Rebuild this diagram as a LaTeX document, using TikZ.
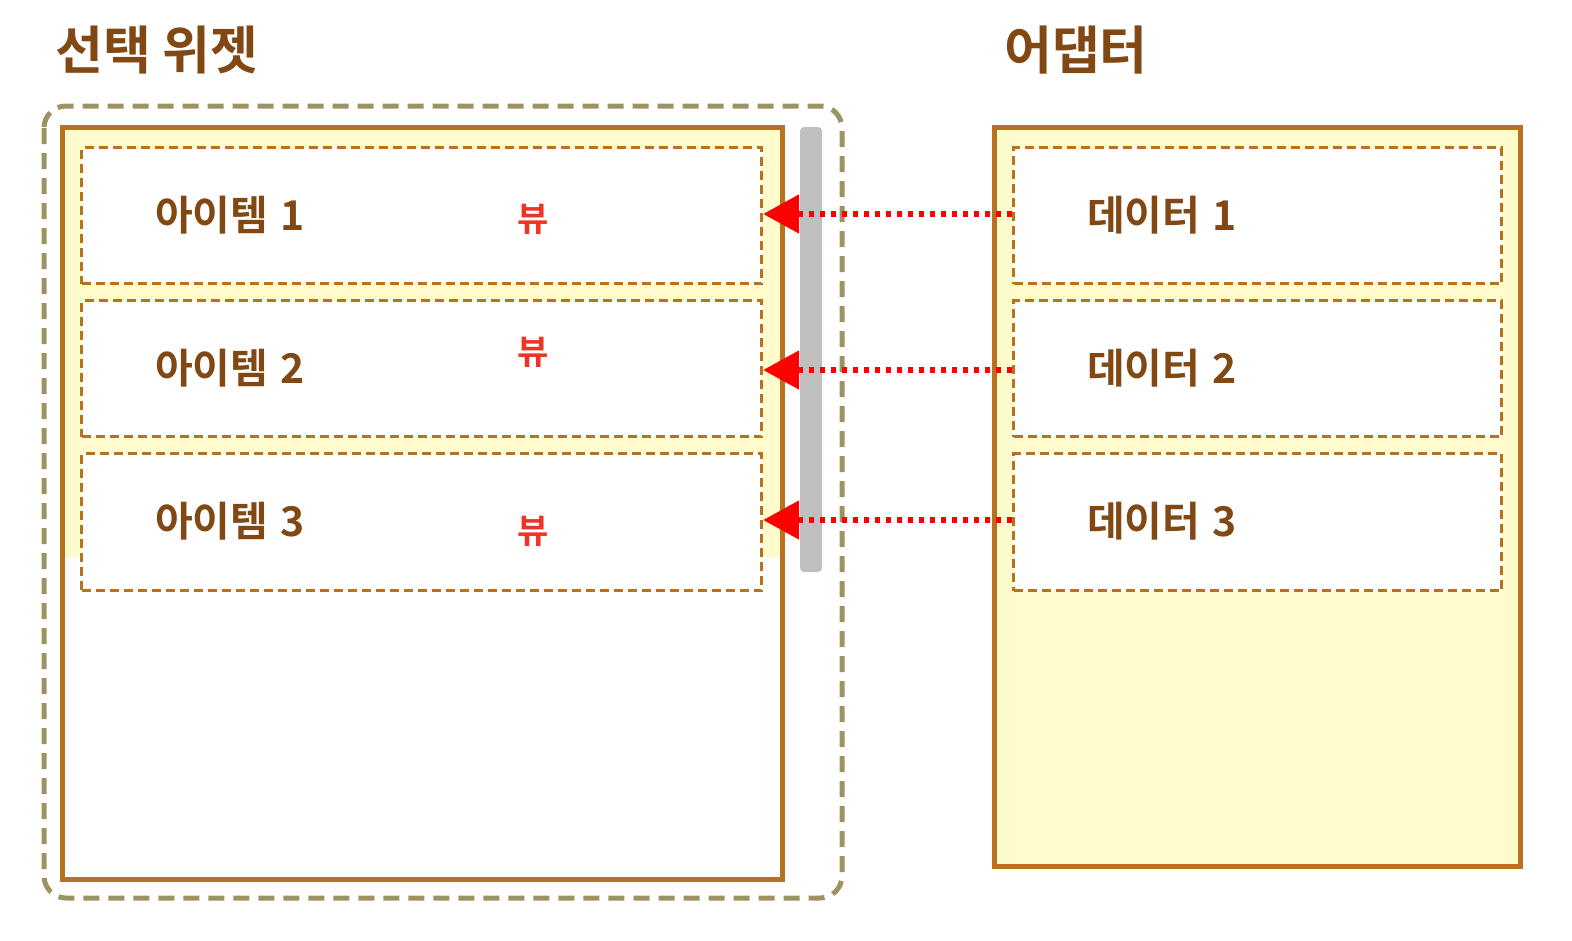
\documentclass[tikz,border=0pt]{standalone}
\usepackage{fontspec}
\newfontfamily\kr{Noto Sans CJK KR}[BoldFont={* Bold}]
\usetikzlibrary{arrows.meta}
\definecolor{brd}{HTML}{B8711C}
\definecolor{txt}{HTML}{824813}
\definecolor{oli}{HTML}{9C9262}
\definecolor{ylw}{HTML}{FFFBCC}
\definecolor{rd}{HTML}{FF0000}
\definecolor{vw}{HTML}{EE3524}
\tikzset{
  panel/.style={draw=brd, line width=5pt},
  itembox/.style={draw=brd, fill=white, line width=3.2pt, dash pattern=on 9pt off 5pt},
  itemtext/.style={font=\kr\bfseries\fontsize{41}{44}\selectfont, text=txt, anchor=west, inner sep=0pt},
  title/.style={font=\kr\bfseries\fontsize{52}{56}\selectfont, text=txt, anchor=west, inner sep=0pt},
  viewtext/.style={font=\kr\bfseries\fontsize{34}{36}\selectfont, text=vw, inner sep=0pt},
  link/.style={draw=rd, line width=5.5pt, dash pattern=on 5.5pt off 5.5pt, -{Triangle[length=36pt,width=38pt]}},
}
\newcommand{\gp}{\hspace{0.3em}}
\begin{document}
\begin{tikzpicture}[x=1pt,y=-1pt]
\useasboundingbox (0,0) rectangle (1572,940);
% titles
\node[title] (t1) at (55,50) {선택 위젯};
\node[title] (t2) at (1004,50) {어댑터};
% outer dashed rounded box
\draw[oli, line width=5pt, dash pattern=on 16pt off 9pt, rounded corners=22pt] (44,106) rectangle (842,898);
% left panel
\fill[ylw] (62,127) rectangle (782,557);
\draw[panel] (62,127) rectangle (782,879);
% scrollbar
\fill[gray!50, rounded corners=4pt] (800,127) rectangle (822,572);
% right panel
\draw[panel, fill=ylw] (994,127) rectangle (1520,866);
% items
\node[itembox, minimum width=680pt, minimum height=136pt, anchor=north west] (i1) at (80,146) {};
\node[itembox, minimum width=680pt, minimum height=136pt, anchor=north west] (i2) at (80,299) {};
\node[itembox, minimum width=680pt, minimum height=137pt, anchor=north west] (i3) at (80,452) {};
\node[itembox, minimum width=488pt, minimum height=136pt, anchor=north west] (d1) at (1012,146) {};
\node[itembox, minimum width=488pt, minimum height=136pt, anchor=north west] (d2) at (1012,299) {};
\node[itembox, minimum width=488pt, minimum height=137pt, anchor=north west] (d3) at (1012,452) {};
% texts
\node[itemtext] (a1) at (155,215) {아이템\gp 1};
\node[itemtext] (a2) at (155,368) {아이템\gp 2};
\node[itemtext] (a3) at (155,521) {아이템\gp 3};
\node[itemtext] (b1) at (1087,215) {데이터\gp 1};
\node[itemtext] (b2) at (1087,368) {데이터\gp 2};
\node[itemtext] (b3) at (1087,521) {데이터\gp 3};
\node[viewtext] (v1) at (533,219) {뷰};
\node[viewtext] (v2) at (533,352) {뷰};
\node[viewtext] (v3) at (533,531) {뷰};
% arrows
\coordinate (s1) at (d1.west |- 0,214);
\coordinate (e1) at (i1.east |- 0,214);
\coordinate (s2) at (d2.west |- 0,370);
\coordinate (e2) at (i2.east |- 0,370);
\coordinate (s3) at (d3.west |- 0,520);
\coordinate (e3) at (i3.east |- 0,520);
\draw[link] (s1) -- (e1);
\draw[link] (s2) -- (e2);
\draw[link] (s3) -- (e3);
\end{tikzpicture}
\end{document}
